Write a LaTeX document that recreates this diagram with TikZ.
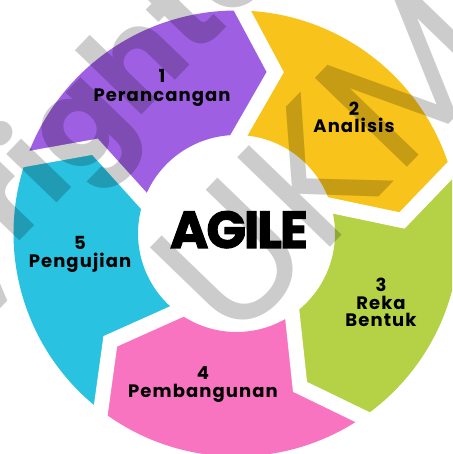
\documentclass[tikz,border=0pt]{standalone}
\usepackage{fontspec}
\setmainfont{Poppins}
\newfontfamily\lblfont{Poppins}[LetterSpace=6]
\newfontfamily\titlefont{Poppins}[LetterSpace=-4,BoldFeatures={FakeBold=2}]
\newfontfamily\markfont{Poppins}
\usetikzlibrary{calc}
\definecolor{segA}{RGB}{159,95,226}
\definecolor{segB}{RGB}{248,195,27}
\definecolor{segC}{RGB}{181,209,69}
\definecolor{segD}{RGB}{249,116,192}
\definecolor{segE}{RGB}{41,194,224}
\begin{document}
\begin{tikzpicture}[x=1pt,y=1pt,
  lbl/.style={anchor=base,inner sep=0pt,font=\lblfont\bfseries\fontsize{18}{18}\selectfont},
  title/.style={anchor=base,inner sep=0pt,font=\titlefont\bfseries\fontsize{52}{52}\selectfont},
  gap/.style={white,line width=15pt,line join=miter},
  wm/.style={black,opacity=0.2,inner sep=0pt,rotate=46}]
\useasboundingbox (0,0) rectangle (452,454);
\clip (0,0) rectangle (452,454);
\def\Ro{223}\def\Ri{98.5}\def\Rm{166}\def\Tip{12}
\coordinate (C) at (236.5,220.5);
% ring segments, each running clockwise from its tail angle to its head angle
\foreach \col/\t/\h in {segA/160.5/88.5, segB/88.5/16.5, segC/16.5/-55.5, segD/-55.5/-127.5, segE/232.5/160.5}{
  \fill[\col,shift={(C)}] (\t:\Ro) arc[start angle=\t,end angle=\h,radius=\Ro]
    -- ({\h-\Tip}:\Rm) -- (\h:\Ri) arc[start angle=\h,end angle=\t,radius=\Ri]
    -- ({\t-\Tip}:\Rm) -- cycle;
}
% white chevron gaps between the segments
\foreach \b in {160.5,88.5,16.5,-55.5,-127.5}{
  \coordinate (po) at ($(C)+(\b:\Ro)$);
  \coordinate (pm) at ($(C)+({\b-\Tip}:\Rm)$);
  \coordinate (pi) at ($(C)+(\b:\Ri)$);
  \draw[gap] ($(pm)!1.4!(po)$) -- (pm) -- ($(pm)!1.4!(pi)$);
}
% centre title
\node[title] (agile) at (239,206) {AGILE};
% step labels
\node[lbl] (n1) at (162,371) {1};
\node[lbl] (t1) at (162,352.3) {Perancangan};
\node[lbl] (n2) at (354,338) {2};
\node[lbl] (t2) at (354,321) {Analisis};
\node[lbl] (n3) at (381,162) {3};
\node[lbl] (t3a) at (381,144) {Reka};
\node[lbl] (t3b) at (381,127) {Bentuk};
\node[lbl] (n4) at (203,74) {4};
\node[lbl] (t4) at (203,56) {Pembangunan};
\node[lbl] (n5) at (80,204) {5};
\node[lbl] (t5) at (80,186) {Pengujian};
% watermark
\node[wm,font=\markfont\fontsize{185}{185}\selectfont] (wmb) at (325,293) {UKM};
\node[wm,anchor=base,font=\markfont\bfseries\fontsize{125}{125}\selectfont] (wma) at (61,255) {Copyrighted};
\end{tikzpicture}
\end{document}
